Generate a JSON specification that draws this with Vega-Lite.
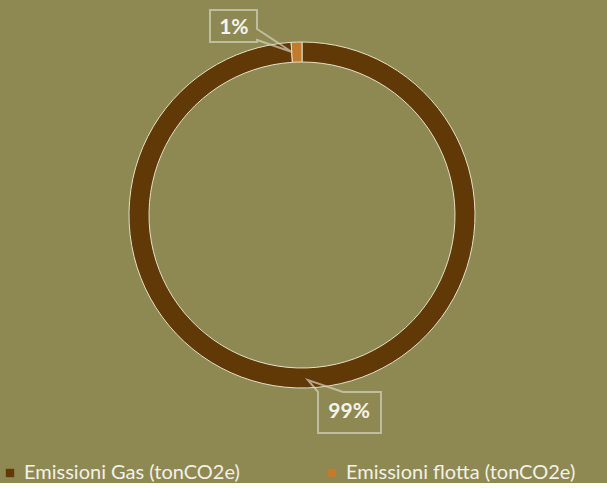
{
  "$schema": "https://vega.github.io/schema/vega-lite/v6.json",
  "width": 604,
  "height": 430,
  "padding": {"left": 0, "top": 0, "right": 3, "bottom": 0},
  "background": "#8e8953",
  "config": {"view": {"stroke": null}},
  "data": {"values": [
    {"categoria": "Emissioni Gas (tonCO2e)", "valore": 99, "ord": 1, "etichetta": "99%"},
    {"categoria": "Emissioni flotta (tonCO2e)", "valore": 1, "ord": 2, "etichetta": "1%"}
  ]},
  "encoding": {
    "theta": {"field": "valore", "type": "quantitative", "stack": true},
    "order": {"field": "ord", "type": "quantitative"}
  },
  "layer": [
    {
      "mark": {"type": "arc", "outerRadius": 173, "innerRadius": 153, "stroke": "#e4e0c8", "strokeWidth": 1},
      "encoding": {
        "color": {
          "field": "categoria", "type": "nominal",
          "scale": {"domain": ["Emissioni Gas (tonCO2e)", "Emissioni flotta (tonCO2e)"], "range": ["#603907", "#c27b2d"]},
          "legend": {
            "title": null, "orient": "bottom", "direction": "horizontal",
            "symbolType": "square", "symbolSize": 70, "symbolStrokeWidth": 0,
            "labelFont": "Lato", "labelFontSize": 20, "labelColor": "#f3f1e6",
            "columnPadding": 82, "offset": 33, "labelLimit": 400
          }
        }
      }
    },
    {
      "mark": {"type": "point", "shape": "M-92,-205H-45V-186L-10,-163L-45,-175V-173H-92Z", "size": 4, "filled": false, "stroke": "#d6d3bd", "strokeWidth": 2},
      "encoding": {"strokeOpacity": {"condition": {"test": "datum.ord == 2", "value": 1}, "value": 0}}
    },
    {
      "mark": {"type": "point", "shape": "M16,177L6,165L41,177H79V218H16Z", "size": 4, "filled": false, "stroke": "#d6d3bd", "strokeWidth": 2},
      "encoding": {"strokeOpacity": {"condition": {"test": "datum.ord == 1", "value": 1}, "value": 0}}
    },
    {
      "mark": {"type": "text", "radius": 163, "dx": -63, "dy": -24, "font": "Lato", "fontSize": 21, "fontWeight": "bold", "color": "#f6f4ea"},
      "encoding": {"text": {"condition": {"test": "datum.ord == 2", "field": "etichetta"}, "value": ""}}
    },
    {
      "mark": {"type": "text", "radius": 163, "dx": 42, "dy": 34, "font": "Lato", "fontSize": 21, "fontWeight": "bold", "color": "#f6f4ea"},
      "encoding": {"text": {"condition": {"test": "datum.ord == 1", "field": "etichetta"}, "value": ""}}
    }
  ]
}
